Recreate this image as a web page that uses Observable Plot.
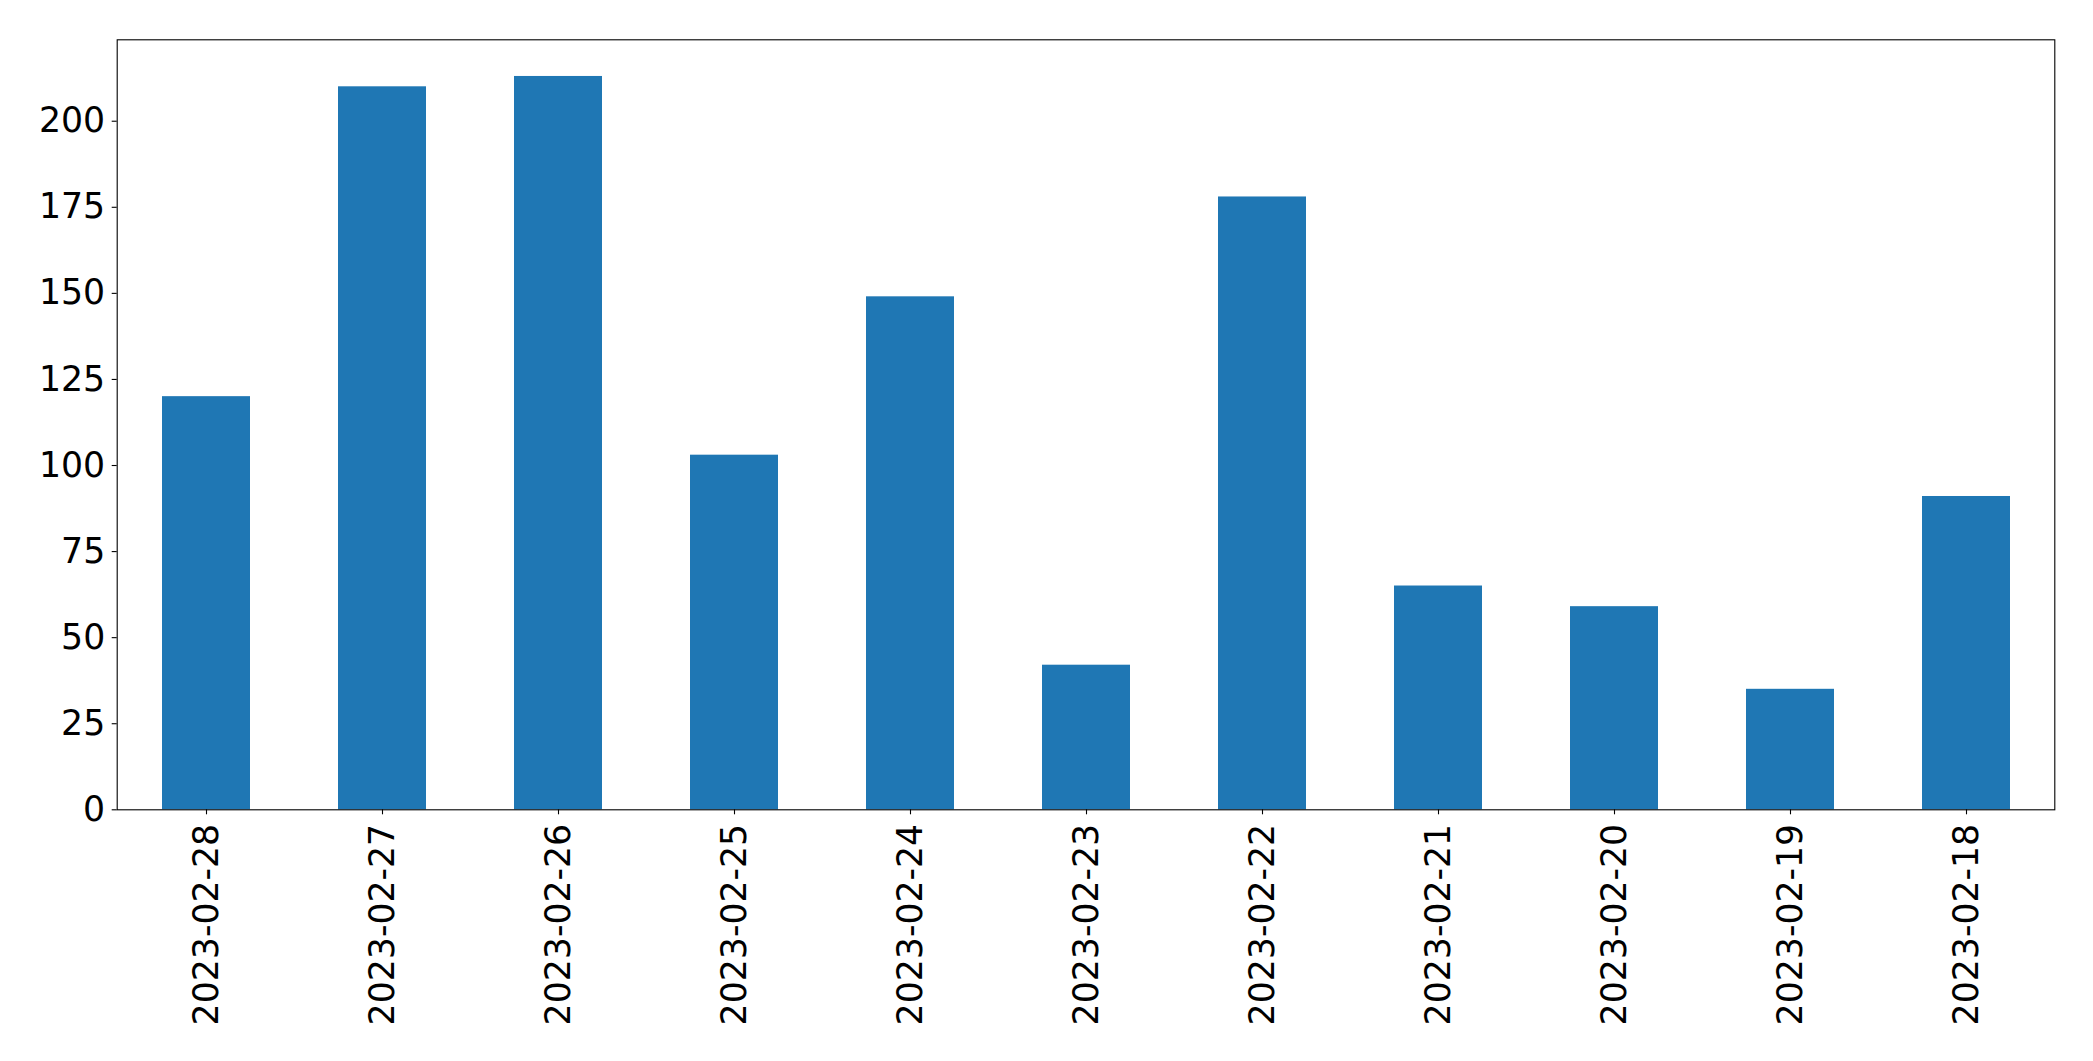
<!DOCTYPE html>
<html>
<head>
<meta charset="utf-8">
<script src="https://cdn.jsdelivr.net/npm/d3@7"></script>
<script src="https://cdn.jsdelivr.net/npm/@observablehq/plot@0.6"></script>
<style>
  html, body { margin: 0; padding: 0; background: #fff; }
  #chart svg { display: block; }
</style>
</head>
<body>
<div id="chart"></div>
<script>
const dates = ["2023-02-28","2023-02-27","2023-02-26","2023-02-25","2023-02-24","2023-02-23","2023-02-22","2023-02-21","2023-02-20","2023-02-19","2023-02-18"];
const counts = [120, 210, 213, 103, 149, 42, 178, 65, 59, 35, 91];
const yTicks = [0, 25, 50, 75, 100, 125, 150, 175, 200];
const yMax = 223.65;

const data = dates.map((d, i) => ({date: d, count: counts[i]}));

const chart = Plot.plot({
  width: 2093,
  height: 1061,
  marginLeft: 116.7,
  marginRight: 38.7,
  marginTop: 39.3,
  marginBottom: 251.7,
  style: {fontFamily: "'DejaVu Sans', sans-serif", fontSize: "34.7px", color: "#000", background: "#fff", overflow: "visible"},
  x: {type: "band", domain: dates, paddingInner: 0.5, paddingOuter: 0.25, align: 0.5},
  y: {domain: [0, yMax]},
  marks: [
    Plot.barY(data, {x: "date", y: "count", fill: "#1f77b4"}),
    Plot.axisY({ticks: yTicks, tickSize: 5, tickPadding: 7, label: null, fontSize: 34.7, strokeWidth: 1.1}),
    Plot.axisX({tickRotate: -90, tickSize: 5, tickPadding: 9, label: null, fontSize: 34.7, strokeWidth: 1.1}),
    Plot.frame({stroke: "#000", strokeWidth: 1.1})
  ]
});
document.getElementById("chart").appendChild(chart);
</script>
</body>
</html>
